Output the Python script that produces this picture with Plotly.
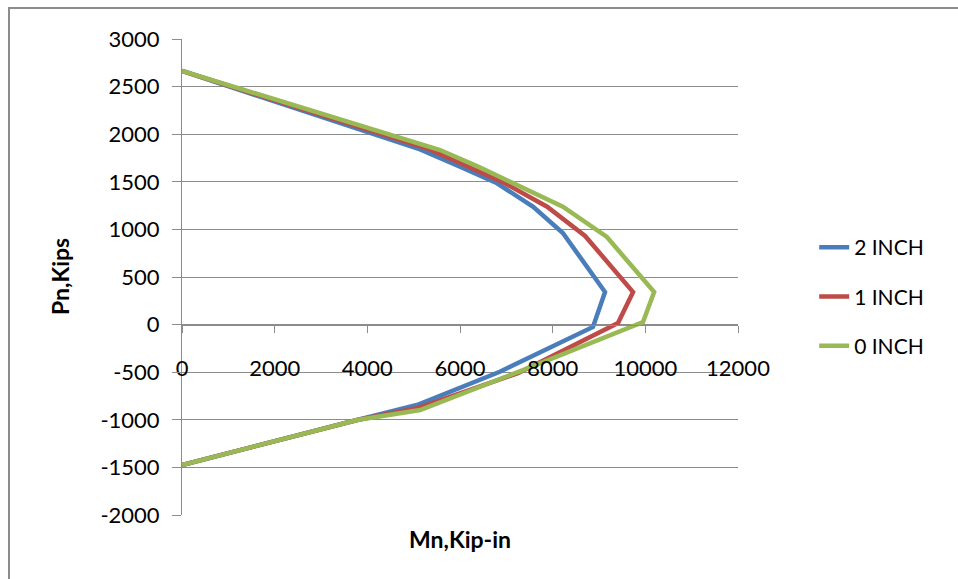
import plotly.graph_objects as go

# Data
mn_2in = [0, 5140, 6000, 6800, 7580, 8220, 9130, 8870, 6860, 5070, 3780, 0]
pn_2in = [2665, 1840, 1660, 1484, 1238, 962, 342, -25, -495, -845, -1002, -1475]

mn_1in = [0, 5300, 6170, 6970, 7880, 8700, 9735, 9410, 7250, 5100, 3780, 0]
pn_1in = [2665, 1850, 1660, 1484, 1238, 931, 342, 17, -510, -875, -1002, -1475]

mn_0in = [0, 5570, 6390, 7140, 8220, 9170, 10190, 9950, 7400, 5140, 3780, 0]
pn_0in = [2665, 1834, 1660, 1484, 1238, 920, 342, 27, -470, -897, -1002, -1475]

series_names = ["2 INCH", "1 INCH", "0 INCH"]
colors = ["#4A7EBB", "#BE4B48", "#98B954"]

x_tickvals = [0, 2000, 4000, 6000, 8000, 10000, 12000]
x_ticktext = ["0", "2000", "4000", "6000", "8000", "10000", "12000"]
y_tickvals = [3000, 2500, 2000, 1500, 1000, 500, 0, -500, -1000, -1500, -2000]
y_ticktext = ["3000", "2500", "2000", "1500", "1000", "500", "0",
              "-500", "-1000", "-1500", "-2000"]

x_title = "Mn,Kip-in"
y_title = "Pn,Kips"

FONT = "Lato"
GRAY = "#8C8C8C"

fig = go.Figure()
for name, xs, ys, c in zip(series_names, [mn_2in, mn_1in, mn_0in],
                           [pn_2in, pn_1in, pn_0in], colors):
    fig.add_trace(go.Scatter(x=xs, y=ys, mode="lines", name=name,
                             legendgroup=name,
                             line=dict(color=c, width=4.5)))

fig.update_layout(
    width=958, height=579,
    margin=dict(l=182, r=220, t=39, b=64),
    paper_bgcolor="white", plot_bgcolor="white",
    font=dict(family=FONT, size=22, color="#000000"),
    showlegend=True,
    legend=dict(x=1.137, y=0.459, xanchor="left", yanchor="middle",
                font=dict(family=FONT, size=21, color="#000000"),
                tracegroupgap=19, bgcolor="rgba(0,0,0,0)"),
    xaxis=dict(range=[0, 12000], tickvals=x_tickvals, ticktext=x_ticktext,
               showgrid=False, zeroline=False,
               showline=True, linecolor=GRAY, linewidth=1,
               ticks="outside", ticklen=7, tickcolor=GRAY,
               anchor="free", position=0.4,
               ticklabelstandoff=17,
               tickfont=dict(family=FONT, size=22)),
    yaxis=dict(range=[-2000, 3000], tickvals=y_tickvals, ticktext=y_ticktext,
               showgrid=True, gridcolor=GRAY, gridwidth=1,
               zeroline=False,
               showline=True, linecolor=GRAY, linewidth=1,
               ticks="outside", ticklen=9, tickcolor=GRAY,
               ticklabelstandoff=8,
               tickfont=dict(family=FONT, size=22)),
    annotations=[
        dict(text="<b>%s</b>" % x_title, xref="paper", yref="paper",
             x=(460 - 182) / 556, y=-(539 - 515) / 476,
             xanchor="center", yanchor="middle", showarrow=False,
             font=dict(family=FONT, size=23)),
        dict(text="<b>%s</b>" % y_title, xref="paper", yref="paper",
             x=-(182 - 60) / 556, y=(515 - 277) / 476, textangle=-90,
             xanchor="center", yanchor="middle", showarrow=False,
             font=dict(family=FONT, size=23)),
    ],
    shapes=[
        dict(type="rect", xref="paper", yref="paper",
             x0=-(182 - 9) / 556, x1=2.0, y0=-1.0, y1=1 + (39 - 8) / 476,
             line=dict(color=GRAY, width=2), layer="below"),
    ],
)

fig.write_html("out.html")
